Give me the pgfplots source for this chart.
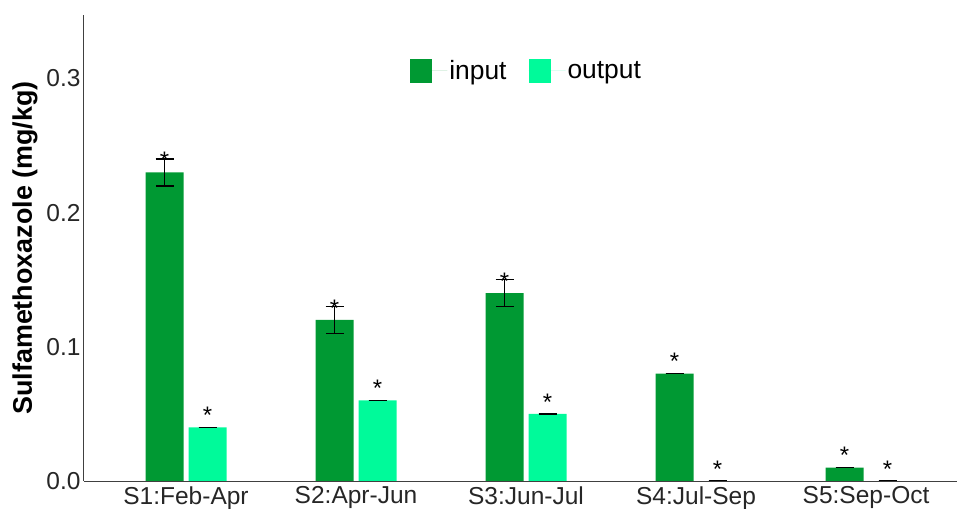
\documentclass[border=0pt]{standalone}
\usepackage{pgfplots}
\pgfplotsset{compat=1.18}
\usepackage{fontspec}
\setmainfont{Liberation Sans}
\definecolor{cin}{RGB}{0,153,51}
\definecolor{cout}{RGB}{0,250,154}
\begin{document}
\begin{tikzpicture}
\begin{axis}[
  scale only axis, width=873bp, height=466bp,
  xmin=0.4, xmax=5.535, ymin=0, ymax=0.3473,
  axis x line=bottom, axis y line=left,
  axis line style={-, black!75, line width=1bp},
  xtick={1,2,3,4,5},
  xticklabels={S1:Feb-Apr,S2:Apr-Jun,S3:Jun-Jul,S4:Jul-Sep,S5:Sep-Oct},
  ytick={0,0.1,0.2,0.3},
  yticklabel style={/pgf/number format/.cd, fixed, fixed zerofill, precision=1},
  xticklabel style={yshift=-2bp},
  /pgf/number format/assume math mode=true,
  major tick length=0pt,
  tick label style={font=\fontsize{24.6}{28}\selectfont, color=black!85},
  ylabel={Sulfamethoxazole (mg/kg)},
  ylabel style={font=\bfseries\fontsize{27}{31}\selectfont, yshift=2bp},
  ybar=5bp, bar width=38bp,
  nodes near coords={*},
  every node near coord/.append style={anchor=center, yshift=12bp, font=\fontsize{24}{28}\selectfont, black},
  error bars/y dir=both, error bars/y explicit,
  error bars/error bar style={line width=1.5bp, black},
  error bars/error mark options={rotate=90, mark size=9bp, line width=1.5bp, black},
  legend style={at={(0.507,0.88)}, anchor=center, draw=none, fill=none,
    font=\fontsize{26.5}{30}\selectfont,
    /tikz/every even column/.append style={column sep=20bp}},
  legend columns=2,
  legend cell align=left,
  legend image code/.code={\fill[#1] (0bp,-12bp) rectangle (22bp,12bp); \path (0bp,0bp) -- (37bp,0bp);},
]
\addplot[fill=cin, draw=none] coordinates {
  (1,0.23) +- (0,0.01)
  (2,0.12) +- (0,0.01)
  (3,0.14) +- (0,0.01)
  (4,0.08) +- (0,0)
  (5,0.01) +- (0,0)
};
\addplot[fill=cout, draw=none] coordinates {
  (1,0.04) +- (0,0)
  (2,0.06) +- (0,0)
  (3,0.05) +- (0,0)
  (4,0.0) +- (0,0)
  (5,0.0) +- (0,0)
};
\legend{input, output}
\end{axis}
\pgfresetboundingbox
\path[use as bounding box] (current axis.south west) ++(-84bp,-28bp) rectangle ++(957bp,509bp);
\end{tikzpicture}
\end{document}
